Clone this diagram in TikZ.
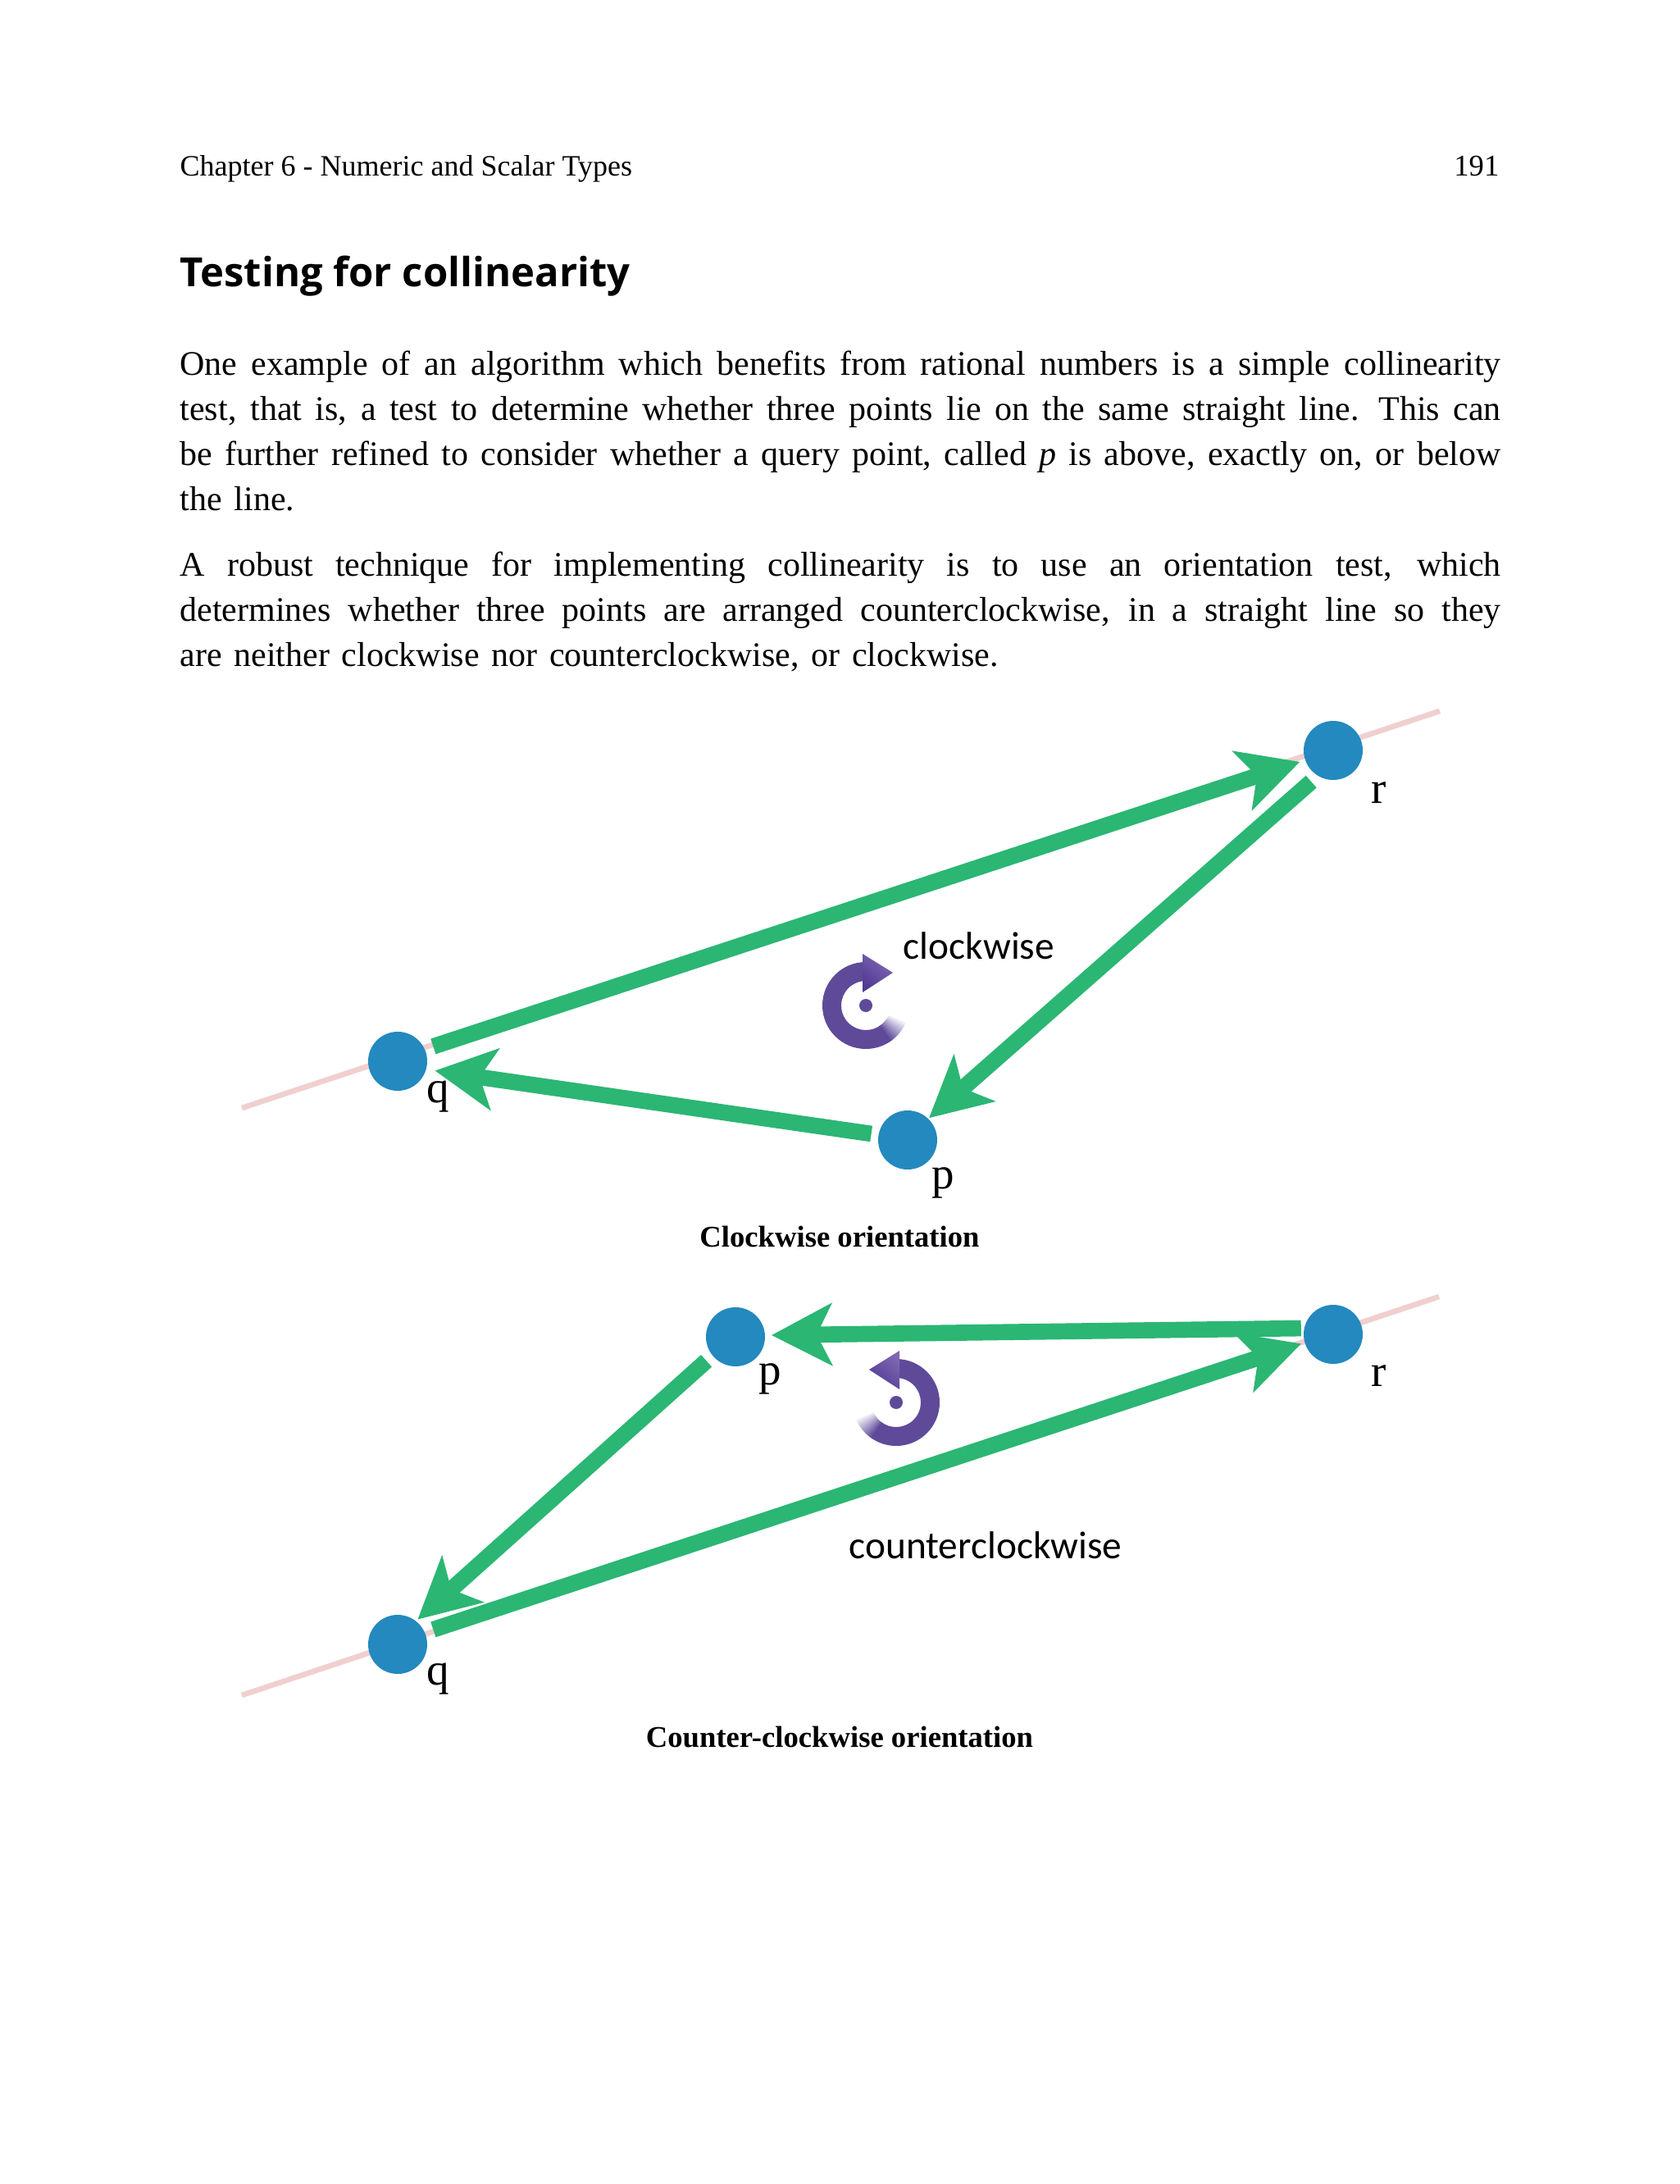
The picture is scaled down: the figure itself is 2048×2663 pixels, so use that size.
\documentclass[tikz,border=0pt]{standalone}
\usepackage{fontspec}
\setmainfont{Liberation Serif}
\newfontfamily\bodyfont[WordSpace=1.4]{Liberation Serif}
\newfontfamily\headfont{Open Sans}
\newfontfamily\turnfont{Carlito}
\usetikzlibrary{arrows.meta,backgrounds}
\definecolor{flowgreen}{HTML}{2BB673}
\definecolor{dotblue}{HTML}{2389BE}
\definecolor{linepink}{HTML}{F0CFCF}
\definecolor{turnpurple}{HTML}{5F4A9A}
\definecolor{turnlight}{HTML}{7F68B2}
\definecolor{turndark}{HTML}{523A94}
\tikzset{
  point/.style={circle, fill=dotblue, minimum size=21.6pt, inner sep=0pt, outer sep=0pt},
  flow/.style={-{Stealth[length=22pt,width=22.5pt,inset=5.5pt]}, line width=5.9pt, draw=flowgreen},
  baseline line/.style={line width=2pt, draw=linepink},
  ptlabel/.style={font=\fontsize{16.5}{17}\selectfont, anchor=base, inner sep=0pt},
  turnlabel/.style={font=\turnfont\fontsize{14.2}{15}\selectfont, anchor=base, inner sep=0pt},
  caption/.style={font=\bfseries\fontsize{11}{13}\selectfont, anchor=base, inner sep=0pt},
  body/.style={font=\bodyfont\fontsize{12.6}{16.5}\selectfont, anchor=base west, inner sep=0pt, text width=483.3pt, align=justify}
}
\begin{document}
\begin{tikzpicture}[x=0.3pt,y=0.3pt]
\useasboundingbox (0,0) rectangle (2048,-2663);
% page head
\node[font=\fontsize{10.8}{13}\selectfont, anchor=base west, inner sep=0pt] (chapter) at (219,-215) {Chapter 6 - Numeric and Scalar Types};
\node[font=\fontsize{11}{13}\selectfont, anchor=base east, inner sep=0pt] (pagenum) at (1829,-215) {191};
\node[font=\headfont\bfseries\fontsize{14.7}{17}\selectfont, anchor=base west, inner sep=0pt] (title) at (219,-350) {Testing for collinearity};
% text
\node[body] (parone) at (219,-458) {One example of an algorithm which benefits from rational numbers is a simple collinearity\linebreak test, that is, a test to determine whether three points lie on the same straight line. This can\linebreak be further refined to consider whether a query point, called \emph{p} is above, exactly on, or below\linebreak the line.};
\node[body] (partwo) at (219,-702) {A robust technique for implementing collinearity is to use an orientation test, which\linebreak determines whether three points are arranged counterclockwise, in a straight line so they\linebreak are neither clockwise nor counterclockwise, or clockwise.};
% clockwise
\node[point] (q1) at (485,-1294) {};
\node[point] (p1) at (1107,-1390) {};
\node[point] (r1) at (1626,-915) {};
\coordinate (a1) at (295,-1351);
\coordinate (b1) at (1756,-867);
\begin{scope}[on background layer]
\draw[baseline line] (a1) -- (b1);
\end{scope}
\draw[flow, shorten <=3.3pt, shorten >=2.1pt] (q1.24) -- (r1.199);
\draw[flow, shorten <=3.3pt, shorten >=0.4pt] (r1.239) -- (p1.46);
\draw[flow, shorten <=2.7pt, shorten >=3.3pt] (p1.170) -- (q1.344);
\node[ptlabel] (q1lbl) at (534,-1344) {q};
\node[ptlabel] (p1lbl) at (1150,-1449) {p};
\node[ptlabel] (r1lbl) at (1682,-979) {r};
\node[turnlabel] (cwlbl) at (1194,-1169) {clockwise};
\node[caption] (cwcap) at (1024,-1520) {Clockwise orientation};
% counterclockwise
\node[point] (q2) at (485,-2005) {};
\node[point] (p2) at (897,-1630) {};
\node[point] (r2) at (1626,-1627) {};
\coordinate (a2) at (295,-2067);
\coordinate (b2) at (1755,-1581);
\begin{scope}[on background layer]
\draw[baseline line] (a2) -- (b2);
\end{scope}
\draw[flow, shorten <=3.3pt, shorten >=1.4pt] (q2.24) -- (r2.196);
\draw[flow, shorten <=1.2pt, shorten >=2.4pt] (r2.168) -- (p2.3);
\draw[flow, shorten <=3pt, shorten >=0.9pt] (p2.219) -- (q2.52);
\node[ptlabel] (q2lbl) at (534,-2054) {q};
\node[ptlabel] (p2lbl) at (939,-1688) {p};
\node[ptlabel] (r2lbl) at (1682,-1690) {r};
\node[turnlabel] (ccwlbl) at (1202,-1900) {counterclockwise};
\node[caption] (ccwcap) at (1024,-2130) {Counter-clockwise orientation};
% turn icons
\foreach \sx/\sy/\flip in {1056/-1226/1, 1093/-1710/-1} {
\begin{scope}[shift={(\sx,\sy)}, xscale=\flip]
\fill[turnpurple] (0,0) circle (8);
\fill[turnpurple] (90:53) arc[start angle=90, end angle=304, radius=53] -- (304:30) arc[start angle=304, end angle=90, radius=30] -- cycle;
\foreach \a [evaluate=\a as \pct using int(100-(\a-303)*3)] in {333,330,...,303}
  \fill[turnpurple!\pct!white] (\a:53) arc[start angle=\a, end angle=\a+3.5, radius=53] -- (\a+3.5:30) arc[start angle=\a+3.5, end angle=\a, radius=30] -- cycle;
\shade[bottom color=turndark, top color=turnlight, shading angle=-40] (-4,63) -- (33,40) -- (-4,16) -- cycle;
\end{scope}
}
\end{tikzpicture}
\end{document}
